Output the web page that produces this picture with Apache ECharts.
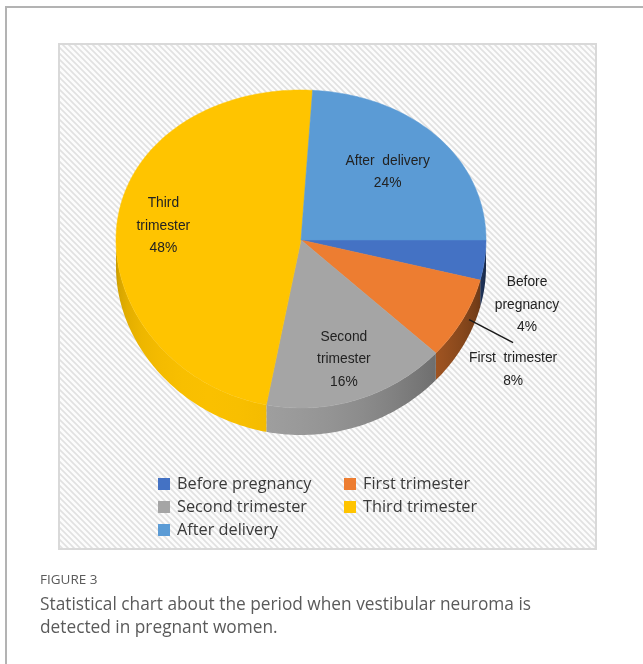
<!DOCTYPE html>
<html><head><meta charset="utf-8">
<script src="https://cdn.jsdelivr.net/npm/echarts@6/dist/echarts.min.js"></script>
<style>html,body{margin:0;padding:0;background:#fff;}#c{width:643px;height:664px;}</style>
</head><body><div id="c"></div>
<script>
// ---- data ----
const categories = ['Before pregnancy', 'First trimester', 'Second trimester', 'Third trimester', 'After delivery'];
const percentValues = [4, 8, 16, 48, 24];
const labelNames = ['Before\npregnancy', 'First  trimester', 'Second\ntrimester', 'Third\ntrimester', 'After  delivery'];
const sliceColors = ['#4472C4', '#ED7D31', '#A5A5A5', '#FFC400', '#5B9BD5'];
const captionTitle = 'FIGURE 3';
const captionLines = ['Statistical chart about the period when vestibular neuroma is', 'detected in pregnant women.'];

// ---- geometry / style (not data) ----
const CX = 301, CY = 240, RX = 185, RY_TOP = 150, RY_BOT = 168, DEPTH = 27;
const RY_MID = (RY_TOP + RY_BOT) / 2, RY_DIFF = (RY_BOT - RY_TOP) / 2;
const labelPlace = [
  { r: 1, dx: 42.5, dy: 45 },
  { r: 1, dx: 50, dy: 51, leader: true },
  { r: 0.75, dx: 0, dy: 0 },
  { r: 0.75, dx: 0, dy: 1 },
  { r: 0.65, dx: -1, dy: 0 }
];
const total = percentValues.reduce((a, b) => a + b, 0);
const starts = [];
percentValues.reduce((acc, v, i) => { starts[i] = acc; return acc + v; }, 0);
const rad = d => d * Math.PI / 180;
function ry(t) { return RY_MID + RY_DIFF * Math.sin(t); }
function proj(deg, f, dy) {
  const t = rad(deg); f = f == null ? 1 : f;
  return [CX + f * RX * Math.cos(t), CY + f * ry(t) * Math.sin(t) + (dy || 0)];
}
function shade(hex, k) {
  const n = parseInt(hex.slice(1), 16);
  const c = [(n >> 16) & 255, (n >> 8) & 255, n & 255].map(v => Math.max(0, Math.min(255, Math.round(v * k))));
  return 'rgb(' + c.join(',') + ')';
}
function light(deg) { return 0.5 + 0.48 * Math.cos(rad((deg - 120) * 0.9)); }
function sideGradient(color) {
  const stops = [];
  for (let d = 180; d >= 0; d -= 10) {
    stops.push({ offset: (Math.cos(rad(d)) + 1) / 2, color: shade(color, light(d)) });
  }
  return new echarts.graphic.LinearGradient(CX - RX, 0, CX + RX, 0, stops, true);
}

// hatch pattern
const pat = document.createElement('canvas');
pat.width = 6; pat.height = 6;
(function () {
  const g = pat.getContext('2d');
  g.fillStyle = '#fcfcfc'; g.fillRect(0, 0, 6, 6);
  g.strokeStyle = '#e1e1e1'; g.lineWidth = 1.6;
  g.beginPath();
  g.moveTo(-1, -1); g.lineTo(7, 7);
  g.moveTo(-4, 2); g.lineTo(4, 10);
  g.moveTo(2, -4); g.lineTo(10, 4);
  g.stroke();
})();

function renderItem(params, api) {
  const i = params.dataIndex;
  const v = api.value(0);
  const a0 = starts[i] / total * 360, a1 = (starts[i] + v) / total * 360;
  const children = [];
  const s0 = Math.max(a0, 0), s1 = Math.min(a1, 180);
  if (s1 > s0) {
    const pts = [];
    for (let d = s0; d < s1; d += 1) pts.push(proj(d));
    pts.push(proj(s1));
    for (let d = s1; d > s0; d -= 1) pts.push(proj(d, 1, DEPTH));
    pts.push(proj(s0, 1, DEPTH));
    children.push({ type: 'polygon', z2: 1, shape: { points: pts },
      style: { fill: sideGradient(sliceColors[i]), stroke: null } });
  }
  const top = [[CX, CY]];
  for (let d = a0; d < a1; d += 1) top.push(proj(d));
  top.push(proj(a1));
  children.push({ type: 'polygon', z2: 10, shape: { points: top },
    style: { fill: sliceColors[i], stroke: sliceColors[i], lineWidth: 0.5 } });
  const mid = (a0 + a1) / 2;
  const lp = labelPlace[i];
  const anchor = proj(mid, lp.r);
  const lx = anchor[0] + lp.dx, lyy = anchor[1] + lp.dy;
  children.push({ type: 'text', z2: 20, style: {
    text: labelNames[i] + '\n' + v + '%', x: lx, y: lyy, align: 'center', verticalAlign: 'middle',
    fontFamily: 'Liberation Sans, Arial, sans-serif', fontSize: 13.8, lineHeight: 22.5, fill: '#222222' } });
  if (lp.leader) {
    children.push({ type: 'line', z2: 15, shape: { x1: lx, y1: lyy - 27, x2: anchor[0] + 6, y2: anchor[1] + 1 },
      style: { stroke: '#1a1a1a', lineWidth: 1.5 } });
  }
  return { type: 'group', children };
}

const chart = echarts.init(document.getElementById('c'), null, { renderer: 'canvas' });
chart.setOption({
  animation: false,
  graphic: [
    { type: 'line', shape: { x1: 5, y1: 7, x2: 643, y2: 7 }, style: { stroke: '#b3b3b3', lineWidth: 2 } },
    { type: 'line', shape: { x1: 6, y1: 7, x2: 6, y2: 664 }, style: { stroke: '#b3b3b3', lineWidth: 2 } },
    { type: 'rect', shape: { x: 59, y: 44, width: 537, height: 505 },
      style: { fill: { image: pat, repeat: 'repeat' }, stroke: '#d9d9d9', lineWidth: 2 } },
    { type: 'text', style: { text: captionTitle, x: 40, y: 580, verticalAlign: 'middle',
      fontFamily: 'Open Sans', fontSize: 13.5, fill: '#5a5a5a' } },
    { type: 'text', style: { text: captionLines.join('\n'), x: 40, y: 594, lineHeight: 23,
      fontFamily: 'Open Sans', fontSize: 17.3, fill: '#5a5a5a' } }
  ],
  legend: {
    left: 158, top: 476, width: 370, padding: 0, itemGap: 7,
    itemWidth: 12, itemHeight: 12, icon: 'rect',
    data: categories,
    textStyle: { fontFamily: 'Open Sans', fontSize: 16.3, color: '#3a3a3a', width: 160, lineHeight: 16, padding: [0, 0, 0, 2] }
  },
  series: [
    { type: 'custom', coordinateSystem: 'none', silent: true,
      data: percentValues.map(v => [v]), renderItem },
    { type: 'pie', radius: 1, center: [-50, -50], silent: true,
      label: { show: false }, labelLine: { show: false },
      data: categories.map((n, i) => ({ name: n, value: percentValues[i], itemStyle: { color: sliceColors[i] } })) }
  ]
});
</script></body></html>
